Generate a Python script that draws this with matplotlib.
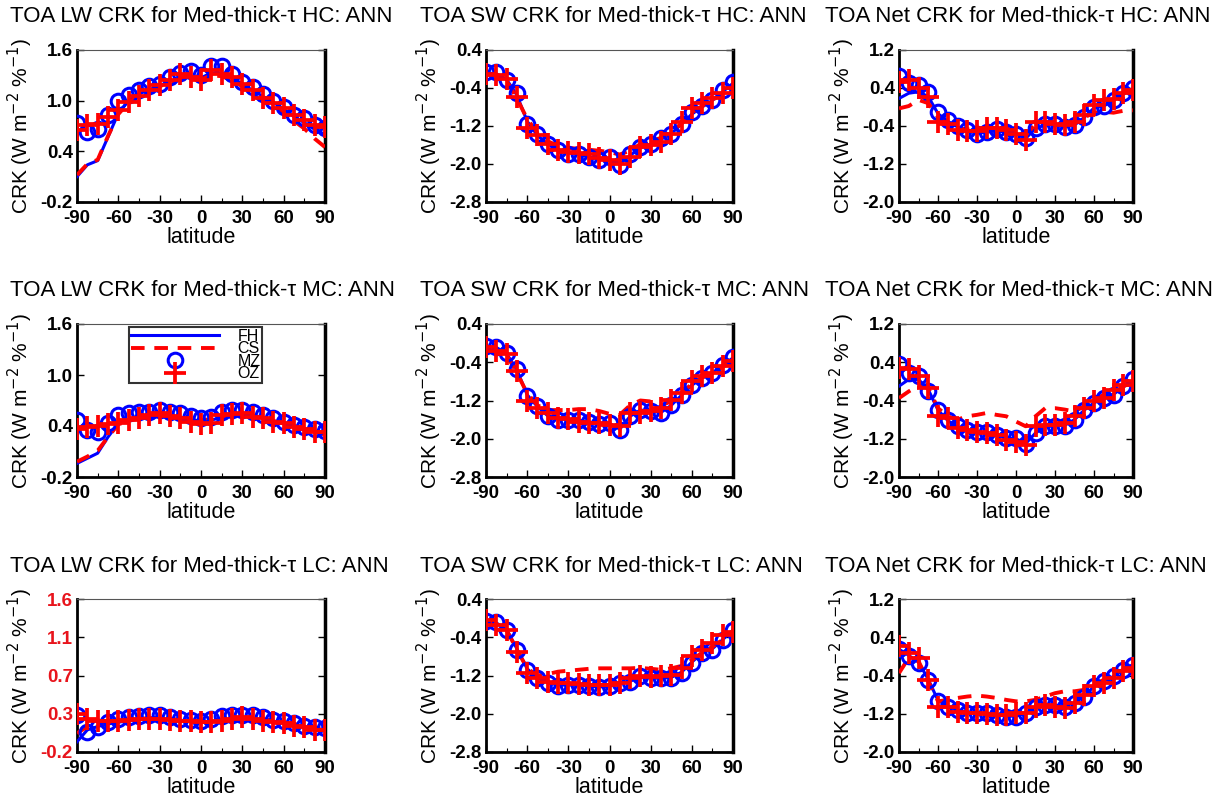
import numpy as np
import matplotlib
matplotlib.use('Agg')
import matplotlib.pyplot as plt
from matplotlib.ticker import MultipleLocator

plt.rcParams['font.family'] = ['Liberation Sans', 'DejaVu Sans']
plt.rcParams['axes.unicode_minus'] = False

#************************** data *************************************************
lat = [-90, -82.5, -75, -67.5, -60, -52.5, -45, -37.5, -30, -22.5, -15, -7.5, 0,
       7.5, 15, 22.5, 30, 37.5, 45, 52.5, 60, 67.5, 75, 82.5, 90]

# HC, LW
hc_lw_fh = [0.10, 0.24, 0.29, 0.57, 0.85, 1.00, 1.08, 1.13, 1.18, 1.23, 1.27, 1.28, 1.27,
            1.33, 1.32, 1.27, 1.20, 1.12, 1.05, 0.98, 0.90, 0.81, 0.74, 0.66, 0.60]
hc_lw_cs = [0.12, 0.25, 0.30, 0.58, 0.84, 0.98, 1.06, 1.12, 1.17, 1.22, 1.25, 1.26, 1.25,
            1.30, 1.29, 1.24, 1.17, 1.09, 1.01, 0.93, 0.85, 0.76, 0.67, 0.55, 0.45]
hc_lw_mz = [0.73, 0.63, 0.67, 0.83, 1.00, 1.07, 1.13, 1.17, 1.20, 1.28, 1.33, 1.35, 1.30,
            1.41, 1.41, 1.32, 1.22, 1.16, 1.08, 1.00, 0.93, 0.83, 0.79, 0.71, 0.68]
hc_lw_oz = [0.65, 0.71, 0.72, 0.81, 0.89, 0.99, 1.05, 1.13, 1.18, 1.24, 1.32, 1.28, 1.24,
            1.36, 1.32, 1.28, 1.20, 1.13, 1.03, 0.97, 0.91, 0.83, 0.77, 0.71, 0.69]

# HC, SW
hc_sw_fh = [-0.08, -0.10, -0.22, -0.55, -1.10, -1.40, -1.58, -1.70, -1.76, -1.80, -1.85, -1.90, -1.92,
            -2.00, -1.82, -1.66, -1.58, -1.48, -1.36, -1.16, -0.95, -0.80, -0.66, -0.48, -0.30]
hc_sw_cs = [-0.10, -0.15, -0.25, -0.62, -1.05, -1.35, -1.52, -1.62, -1.66, -1.68, -1.70, -1.72, -1.75,
            -1.80, -1.72, -1.58, -1.52, -1.45, -1.34, -1.14, -0.92, -0.78, -0.65, -0.52, -0.40]
hc_sw_mz = [-0.06, -0.06, -0.23, -0.51, -1.15, -1.36, -1.57, -1.71, -1.78, -1.79, -1.85, -1.91, -1.85,
            -2.03, -1.79, -1.64, -1.57, -1.46, -1.36, -1.15, -0.90, -0.78, -0.65, -0.44, -0.27]
hc_sw_oz = [-0.11, -0.13, -0.20, -0.58, -1.25, -1.39, -1.57, -1.71, -1.74, -1.77, -1.79, -1.88, -1.91,
            -1.99, -1.85, -1.64, -1.60, -1.53, -1.36, -1.11, -0.83, -0.72, -0.62, -0.51, -0.41]

# HC, Net
hc_net_fh = [0.18, 0.29, 0.32, 0.22, -0.14, -0.30, -0.42, -0.50, -0.55, -0.53, -0.50, -0.53, -0.56,
             -0.66, -0.45, -0.38, -0.38, -0.42, -0.38, -0.22, -0.02, 0.02, 0.14, 0.27, 0.38]
hc_net_cs = [-0.03, 0.02, 0.15, 0.08, -0.21, -0.38, -0.45, -0.47, -0.48, -0.45, -0.43, -0.45, -0.50,
             -0.60, -0.35, -0.32, -0.33, -0.36, -0.33, -0.22, -0.12, -0.10, -0.12, -0.08, -0.07]
hc_net_mz = [0.65, 0.50, 0.46, 0.32, -0.10, -0.28, -0.40, -0.49, -0.56, -0.52, -0.47, -0.52, -0.56,
             -0.66, -0.45, -0.35, -0.36, -0.42, -0.38, -0.21, 0.00, 0.02, 0.15, 0.29, 0.39]
hc_net_oz = [0.53, 0.57, 0.41, 0.22, -0.31, -0.36, -0.49, -0.50, -0.50, -0.45, -0.45, -0.49, -0.56,
             -0.70, -0.31, -0.31, -0.35, -0.38, -0.31, -0.17, 0.04, 0.15, 0.16, 0.29, 0.36]

# MC, LW
mc_lw_fh = [-0.04, 0.02, 0.08, 0.27, 0.43, 0.47, 0.49, 0.50, 0.51, 0.50, 0.49, 0.47, 0.46,
            0.47, 0.50, 0.52, 0.53, 0.52, 0.49, 0.46, 0.43, 0.40, 0.37, 0.34, 0.32]
mc_lw_cs = [-0.02, 0.04, 0.11, 0.27, 0.42, 0.46, 0.49, 0.51, 0.52, 0.51, 0.50, 0.48, 0.47,
            0.48, 0.51, 0.53, 0.54, 0.52, 0.49, 0.46, 0.43, 0.40, 0.37, 0.33, 0.30]
mc_lw_mz = [0.47, 0.35, 0.33, 0.43, 0.53, 0.55, 0.56, 0.57, 0.59, 0.57, 0.55, 0.52, 0.50,
            0.51, 0.57, 0.59, 0.59, 0.57, 0.53, 0.49, 0.45, 0.41, 0.39, 0.37, 0.34]
mc_lw_oz = [0.37, 0.39, 0.40, 0.42, 0.44, 0.47, 0.50, 0.53, 0.55, 0.52, 0.49, 0.45, 0.42,
            0.43, 0.53, 0.54, 0.55, 0.51, 0.49, 0.45, 0.43, 0.39, 0.37, 0.33, 0.33]

# MC, SW
mc_sw_fh = [-0.07, -0.09, -0.22, -0.56, -1.08, -1.33, -1.52, -1.58, -1.60, -1.61, -1.65, -1.68, -1.68,
            -1.80, -1.53, -1.40, -1.42, -1.45, -1.30, -1.09, -0.88, -0.73, -0.62, -0.46, -0.31]
mc_sw_cs = [-0.12, -0.18, -0.25, -0.62, -1.05, -1.30, -1.40, -1.40, -1.40, -1.38, -1.38, -1.42, -1.48,
            -1.50, -1.30, -1.20, -1.22, -1.30, -1.22, -1.05, -0.85, -0.72, -0.62, -0.50, -0.35]
mc_sw_mz = [-0.06, -0.08, -0.21, -0.55, -1.11, -1.32, -1.53, -1.60, -1.60, -1.60, -1.66, -1.69, -1.67,
            -1.81, -1.53, -1.39, -1.43, -1.46, -1.29, -1.08, -0.87, -0.72, -0.62, -0.46, -0.30]
mc_sw_oz = [-0.09, -0.16, -0.23, -0.58, -1.22, -1.36, -1.46, -1.57, -1.59, -1.64, -1.67, -1.67, -1.71,
            -1.74, -1.46, -1.46, -1.43, -1.36, -1.18, -1.04, -0.80, -0.69, -0.62, -0.48, -0.38]

# MC, Net
mc_net_fh = [-0.10, 0.04, 0.04, -0.17, -0.60, -0.82, -0.95, -1.02, -1.06, -1.08, -1.12, -1.18, -1.20,
             -1.30, -1.08, -0.95, -0.93, -0.92, -0.80, -0.60, -0.45, -0.35, -0.27, -0.12, 0.02]
mc_net_cs = [-0.35, -0.21, -0.09, -0.14, -0.56, -0.73, -0.80, -0.73, -0.70, -0.66, -0.70, -0.73, -0.84,
             -0.94, -0.73, -0.56, -0.56, -0.59, -0.63, -0.52, -0.38, -0.28, -0.21, -0.10, -0.03]
mc_net_mz = [0.36, 0.18, 0.11, -0.21, -0.59, -0.80, -0.93, -1.01, -1.05, -1.05, -1.12, -1.19, -1.19,
             -1.30, -1.08, -0.94, -0.94, -0.94, -0.80, -0.59, -0.45, -0.35, -0.28, -0.10, 0.04]
mc_net_oz = [0.29, 0.25, 0.11, -0.14, -0.73, -0.77, -0.98, -1.01, -1.05, -1.08, -1.12, -1.23, -1.26,
             -1.33, -0.94, -0.91, -0.91, -0.87, -0.73, -0.56, -0.42, -0.35, -0.17, -0.07, 0.00]

# LC, LW
lc_lw_fh = [-0.08, 0.06, 0.10, 0.13, 0.15, 0.17, 0.18, 0.19, 0.19, 0.18, 0.17, 0.16, 0.15,
            0.16, 0.17, 0.18, 0.19, 0.19, 0.18, 0.16, 0.14, 0.12, 0.10, 0.08, 0.06]
lc_lw_cs = [0.02, 0.10, 0.13, 0.15, 0.17, 0.18, 0.19, 0.20, 0.20, 0.19, 0.18, 0.17, 0.17,
            0.17, 0.18, 0.19, 0.20, 0.20, 0.19, 0.17, 0.15, 0.13, 0.11, 0.09, 0.07]
lc_lw_mz = [0.23, 0.04, 0.10, 0.15, 0.19, 0.21, 0.22, 0.23, 0.23, 0.21, 0.19, 0.18, 0.17,
            0.19, 0.22, 0.23, 0.23, 0.23, 0.21, 0.18, 0.17, 0.14, 0.11, 0.10, 0.08]
lc_lw_oz = [0.25, 0.19, 0.17, 0.17, 0.17, 0.18, 0.19, 0.19, 0.19, 0.18, 0.17, 0.17, 0.15,
            0.15, 0.17, 0.19, 0.21, 0.19, 0.17, 0.15, 0.14, 0.11, 0.10, 0.06, 0.06]

# LC, SW
lc_sw_fh = [-0.06, -0.10, -0.24, -0.64, -1.06, -1.25, -1.35, -1.40, -1.40, -1.40, -1.42, -1.44, -1.42,
            -1.36, -1.32, -1.23, -1.25, -1.26, -1.24, -1.13, -0.92, -0.73, -0.64, -0.45, -0.25]
lc_sw_cs = [-0.06, -0.12, -0.25, -0.66, -1.05, -1.20, -1.17, -1.12, -1.10, -1.08, -1.06, -1.05, -1.05,
            -1.05, -1.05, -1.04, -1.06, -1.08, -1.05, -1.00, -0.88, -0.72, -0.60, -0.45, -0.28]
lc_sw_mz = [-0.07, -0.09, -0.24, -0.66, -1.08, -1.26, -1.36, -1.42, -1.40, -1.40, -1.43, -1.45, -1.43,
            -1.36, -1.33, -1.22, -1.26, -1.26, -1.26, -1.15, -0.94, -0.73, -0.66, -0.45, -0.24]
lc_sw_oz = [-0.03, -0.14, -0.24, -0.70, -1.15, -1.26, -1.33, -1.35, -1.36, -1.38, -1.40, -1.40, -1.40,
            -1.35, -1.26, -1.21, -1.24, -1.22, -1.19, -1.05, -0.80, -0.66, -0.52, -0.35, -0.30]

# LC, Net
lc_net_fh = [0.15, 0.02, -0.12, -0.48, -0.92, -1.04, -1.12, -1.17, -1.19, -1.19, -1.22, -1.25, -1.25,
             -1.19, -1.05, -1.02, -1.02, -1.04, -0.97, -0.83, -0.63, -0.52, -0.42, -0.28, -0.17]
lc_net_cs = [-0.35, -0.03, -0.10, -0.52, -0.94, -0.91, -0.87, -0.84, -0.82, -0.84, -0.87, -0.91, -0.94,
             -0.94, -0.91, -0.84, -0.77, -0.73, -0.73, -0.70, -0.59, -0.49, -0.38, -0.28, -0.17]
lc_net_mz = [0.16, 0.00, -0.14, -0.49, -0.94, -1.05, -1.12, -1.18, -1.19, -1.19, -1.23, -1.26, -1.26,
             -1.19, -1.05, -1.01, -1.01, -1.05, -0.98, -0.84, -0.63, -0.52, -0.42, -0.28, -0.17]
lc_net_oz = [0.22, 0.08, -0.03, -0.49, -1.05, -1.05, -1.16, -1.19, -1.19, -1.20, -1.23, -1.23, -1.19,
             -1.18, -1.05, -1.01, -1.05, -1.08, -0.98, -0.80, -0.63, -0.56, -0.45, -0.31, -0.25]

titles = ['TOA LW CRK for Med-thick-\u03c4 HC: ANN', 'TOA SW CRK for Med-thick-\u03c4 HC: ANN',
          'TOA Net CRK for Med-thick-\u03c4 HC: ANN',
          'TOA LW CRK for Med-thick-\u03c4 MC: ANN', 'TOA SW CRK for Med-thick-\u03c4 MC: ANN',
          'TOA Net CRK for Med-thick-\u03c4 MC: ANN',
          'TOA LW CRK for Med-thick-\u03c4 LC: ANN', 'TOA SW CRK for Med-thick-\u03c4 LC: ANN',
          'TOA Net CRK for Med-thick-\u03c4 LC: ANN']

panels = [(hc_lw_fh, hc_lw_cs, hc_lw_mz, hc_lw_oz), (hc_sw_fh, hc_sw_cs, hc_sw_mz, hc_sw_oz),
          (hc_net_fh, hc_net_cs, hc_net_mz, hc_net_oz),
          (mc_lw_fh, mc_lw_cs, mc_lw_mz, mc_lw_oz), (mc_sw_fh, mc_sw_cs, mc_sw_mz, mc_sw_oz),
          (mc_net_fh, mc_net_cs, mc_net_mz, mc_net_oz),
          (lc_lw_fh, lc_lw_cs, lc_lw_mz, lc_lw_oz), (lc_sw_fh, lc_sw_cs, lc_sw_mz, lc_sw_oz),
          (lc_net_fh, lc_net_cs, lc_net_mz, lc_net_oz)]

lw_ticks = [-0.2, 0.4, 1.0, 1.6]
sw_ticks = [-2.8, -2.0, -1.2, -0.4, 0.4]
net_ticks = [-2.0, -1.2, -0.4, 0.4, 1.2]
lc_lw_ticklabels = ['-0.2', '0.3', '0.7', '1.1', '1.6']

#************************** layout (pixels of a 1221x801 image) ***************************
W, H = 1221, 801
col_x = [(77, 325), (486, 733), (899, 1133)]
row_y = [(50, 202), (324, 477), (599, 752)]
title_x = [10, 420, 825]
title_y = [16, 291, 566]

fig = plt.figure(figsize=(W / 100, H / 100), dpi=100)

for i in range(9):
    r, c = divmod(i, 3)
    x0, x1 = col_x[c]
    y0, y1 = row_y[r]
    ax = fig.add_axes([x0 / W, 1 - y1 / H, (x1 - x0) / W, (y1 - y0) / H])
    fh, cs, mz, oz = panels[i]

    ax.plot(lat, fh, '-', color='blue', lw=2.2, label='FH', zorder=3)
    ax.plot(lat, cs, '--', color='red', lw=2.8, dashes=(3.5, 2.5), label='CS', zorder=3)
    ax.plot(lat, mz, 'o', color='blue', mfc='none', ms=10.5, mew=2.2, label='MZ', zorder=4)
    ax.plot(lat, oz, '+', color='red', ms=16, mew=2.7, label='OZ', zorder=5)

    ax.set_xlim(-90, 90)
    ax.set_xticks([-90, -60, -30, 0, 30, 60, 90])
    ax.xaxis.set_minor_locator(MultipleLocator(15))
    if c == 0:
        ax.set_ylim(-0.2, 1.6)
        if r == 2:
            ax.set_yticks(np.linspace(-0.2, 1.6, 5))
            ax.set_yticklabels(lc_lw_ticklabels, color='#e8141c')
        else:
            ax.set_yticks(lw_ticks)
            ax.set_yticklabels(['%.1f' % t for t in lw_ticks])
    elif c == 1:
        ax.set_ylim(-2.8, 0.4)
        ax.set_yticks(sw_ticks)
        ax.set_yticklabels(['%.1f' % t for t in sw_ticks])
    else:
        ax.set_ylim(-2.0, 1.2)
        ax.set_yticks(net_ticks)
        ax.set_yticklabels(['%.1f' % t for t in net_ticks])

    ax.tick_params(which='both', direction='in', top=False, right=True, labelsize=13.5)
    ax.tick_params(axis='x', pad=6)
    ax.tick_params(axis='y', pad=3)
    ax.tick_params(which='major', length=5, width=1.0)
    ax.tick_params(which='minor', length=3, width=0.8)
    for lab in ax.get_xticklabels() + ax.get_yticklabels():
        lab.set_fontweight('bold')
    ax.spines['left'].set_linewidth(2.0)
    ax.spines['bottom'].set_linewidth(2.0)
    ax.spines['right'].set_linewidth(2.5)
    ax.spines['top'].set_linewidth(0.8)
    ax.spines['top'].set_color('#555555')

    ax.set_xlabel('latitude', fontsize=15.5, labelpad=0)
    ax.set_ylabel('CRK (W m$^{-2}$ %$^{-1}$)', fontsize=15, labelpad=4)

    fig.text(title_x[c] / W, 1 - title_y[r] / H, titles[i], fontsize=16,
             ha='left', va='center')

    if i == 3:
        leg = ax.legend(loc='upper left', bbox_to_anchor=(0.21, 0.98), fontsize=11.5,
                        handlelength=5.5, frameon=True, fancybox=False,
                        borderpad=0.1, labelspacing=-0.15, handletextpad=1.2,
                        borderaxespad=0.0, edgecolor='black', markerscale=1.0)
        leg.get_frame().set_linewidth(1.5)

plt.savefig('out.png', dpi=100)
